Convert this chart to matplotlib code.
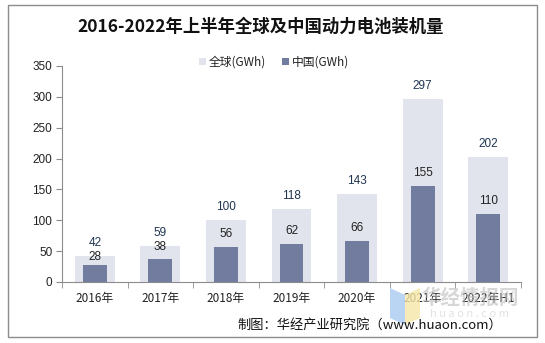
import matplotlib
matplotlib.use("Agg")
import matplotlib.pyplot as plt
from matplotlib.patches import Rectangle, Polygon
import numpy as np

plt.rcParams["font.family"] = ["Noto Sans CJK SC", "DejaVu Sans"]

# 数据
years = ["2016年", "2017年", "2018年", "2019年", "2020年", "2021年", "2022年H1"]
global_gwh = [42, 59, 100, 118, 143, 297, 202]
china_gwh = [28, 38, 56, 62, 66, 155, 110]

GLOBAL_COLOR = "#E1E4ED"
CHINA_COLOR = "#727C9F"
LABEL_DARK = "#1F3550"
NUM_FONT = ["Liberation Sans", "DejaVu Sans"]

fig = plt.figure(figsize=(5.45, 3.43), dpi=100)
fig.patch.set_facecolor("white")

# moldura cinza
fig.add_artist(Rectangle((8 / 545, 1 - 337 / 343), 529 / 545, 332 / 343,
                         transform=fig.transFigure, fill=False,
                         edgecolor="#8C8C8C", linewidth=1.0))

ax = fig.add_axes([62 / 545, 1 - 282 / 343, 459 / 545, 216 / 343])
x = np.arange(len(years))

b1 = ax.bar(x, global_gwh, width=0.61, color=GLOBAL_COLOR, label="全球(GWh)", zorder=2)
b2 = ax.bar(x, china_gwh, width=0.366, color=CHINA_COLOR, label="中国(GWh)", zorder=3)

# rótulos: centro 13 px acima da barra; rótulo do China desce se colidir
px_per_unit = 216 / 350
for xi, g, c in zip(x, global_gwh, china_gwh):
    g_off = 13
    c_off = 13
    gap = (g - c) * px_per_unit + g_off - c_off
    if gap < 14:
        c_off -= 14 - gap
        c_off = max(c_off, 7)
    ax.annotate(str(g), (xi, g), xytext=(0, g_off * 0.72), textcoords="offset points",
                ha="center", va="center", fontsize=8.5, color=LABEL_DARK,
                family=NUM_FONT, zorder=4)
    ax.annotate(str(c), (xi, c), xytext=(0, c_off * 0.72), textcoords="offset points",
                ha="center", va="center", fontsize=8.5, color="#222222",
                family=NUM_FONT, zorder=4)

ax.set_xlim(-0.5, len(years) - 0.5)
ax.set_ylim(0, 350)
ax.set_yticks(range(0, 351, 50))
ax.set_yticklabels([str(v) for v in range(0, 351, 50)],
                   family=NUM_FONT, fontsize=8.5, color="#222222")
ax.set_xticks(x)
ax.set_xticklabels(years, fontsize=8.5, color="#222222")
ax.set_xticks(np.arange(-0.5, len(years)), minor=True)
ax.tick_params(axis="x", which="major", length=0, pad=7)
ax.tick_params(axis="x", which="minor", length=4, color="#8C8C8C")
ax.tick_params(axis="y", length=4, color="#8C8C8C", pad=3)

for s in ("top", "right"):
    ax.spines[s].set_visible(False)
for s in ("left", "bottom"):
    ax.spines[s].set_color("#8C8C8C")
    ax.spines[s].set_linewidth(0.8)

fig.text(261 / 545, 1 - 27 / 343, "2016-2022年上半年全球及中国动力电池装机量",
         ha="center", va="center", fontsize=12.5, fontweight="bold", color="#111111")

leg = fig.legend(handles=[b1, b2], loc="center", bbox_to_anchor=(274 / 545, 1 - 62 / 343),
                 ncol=2, frameon=False, fontsize=8.5, handlelength=0.6, handleheight=0.6,
                 handletextpad=0.2, columnspacing=1.4)
for t in leg.get_texts():
    t.set_color("#222222")

# marca d'água
fig.add_artist(Polygon([[390 / 545, 1 - 288 / 343], [405 / 545, 1 - 295 / 343],
                        [405 / 545, 1 - 325 / 343], [390 / 545, 1 - 318 / 343]],
                       closed=True, transform=fig.transFigure,
                       facecolor="#A9CBF2", edgecolor="none", alpha=0.8))
fig.add_artist(Polygon([[405 / 545, 1 - 295 / 343], [420 / 545, 1 - 288 / 343],
                        [420 / 545, 1 - 318 / 343], [405 / 545, 1 - 325 / 343]],
                       closed=True, transform=fig.transFigure,
                       facecolor="#F6E7A8", edgecolor="none", alpha=0.8))
fig.text(470 / 545, 1 - 298 / 343, "华经情报网", ha="center", va="center",
         fontsize=14, fontweight="bold", color="#BDBDBD", alpha=0.6)
fig.text(470 / 545, 1 - 314 / 343, "h u a o n . c o m", ha="center", va="center",
         fontsize=8, color="#CFCFCF", alpha=0.6)

fig.text(502 / 545, 1 - 325 / 343, "制图：华经产业研究院（www.huaon.com）",
         ha="right", va="center", fontsize=9.5, color="#111111")

fig.savefig("out.png", dpi=100, facecolor="white")
